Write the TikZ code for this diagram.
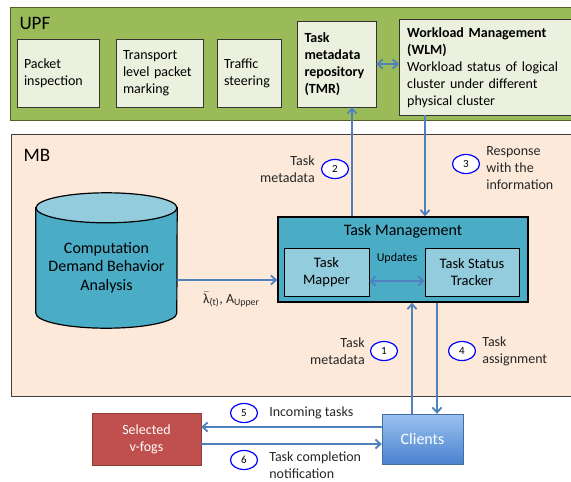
\documentclass[tikz,border=0pt]{standalone}
\usepackage{fontspec}
\setmainfont{Carlito}
\usepackage{tikz}
\usetikzlibrary{shapes, arrows.meta, positioning}

\definecolor{upfgreen}{HTML}{9BBB59}
\definecolor{upfline}{HTML}{4F6228}
\definecolor{boxfill}{HTML}{EBF1DE}
\definecolor{mbfill}{HTML}{FDE9D9}
\definecolor{aqua}{HTML}{4BACC6}
\definecolor{aqualight}{HTML}{93CDDD}
\definecolor{arrowblue}{HTML}{4F81BD}
\definecolor{fogred}{HTML}{C0504D}
\definecolor{clienttop}{HTML}{99C2F0}
\definecolor{clientbot}{HTML}{4A82CF}

\tikzstyle{region} = [draw=black!75, rectangle, anchor=north west, inner sep=0pt]
\tikzstyle{upfblock} = [draw=black!80, rectangle, fill=boxfill, minimum height=68pt, align=left, inner sep=7pt, font=\fontsize{14}{17}\selectfont]
\tikzstyle{tmblock} = [draw=black, rectangle, fill=aqualight, minimum height=48pt, align=center, font=\fontsize{14.5}{17}\selectfont]

\begin{document}
\begin{tikzpicture}[x=1pt, y=-1pt, >={Straight Barb[length=5pt,width=9pt]}]
    % styles
    \tikzstyle{badge} = [draw=blue, ellipse, line width=1.2pt, fill=white, minimum width=27pt, minimum height=19pt, inner sep=0pt, font=\fontsize{11}{12}\selectfont]
    \tikzstyle{lbl} = [font=\fontsize{14}{17}\selectfont, text=black!85, inner sep=0pt]
    \tikzstyle{flow} = [draw=arrowblue, line width=1.8pt]
    \tikzstyle{drum} = [draw=black, line width=1.2pt]

    \useasboundingbox (0,0) rectangle (571,482);

    % regions
    \node [region, fill=upfgreen, draw=upfline, minimum width=570pt, minimum height=113pt] (upf) at (10,7) {};
    \node [region, fill=mbfill, minimum width=570pt, minimum height=262pt] (mb) at (11,134) {};
    \node [anchor=west, font=\fontsize{19}{20}\selectfont] (upftitle) at (16,23) {UPF};
    \node [anchor=west, font=\fontsize{19}{20}\selectfont] (mbtitle) at (20,155) {MB};

    % UPF blocks
    \node [upfblock, text width=68pt] (pktinsp) at (58,73) {Packet\\inspection};
    \node [upfblock, text width=73pt] (marking) at (159.5,73) {Transport\\level packet\\marking};
    \node [upfblock, text width=50pt] (steering) at (249,73) {Traffic\\steering};
    \node [upfblock, text width=64pt, inner sep=7.5pt, minimum height=86pt, font=\fontsize{14}{17}\selectfont\bfseries] (tmr) at (336.5,64) {Task\\metadata\\repository\\(TMR)};
    \node [upfblock, anchor=north west, text width=165pt, inner sep=8pt, minimum height=89pt] (wlm) at (399,19)
        {\textbf{Workload Management}\\\textbf{(WLM)}\\Workload status of logical\\cluster under different\\physical cluster};

    % MB blocks
    \node [minimum width=141pt, minimum height=135pt, inner sep=0pt] (cdba) at (106.5,260.5) {};
    \draw [drum, fill=aqua] ([yshift=-15pt]cdba.north west) -- ([yshift=15pt]cdba.south west)
        arc [start angle=180, end angle=360, x radius=70.5pt, y radius=15pt] -- ([yshift=-15pt]cdba.north east) -- cycle;
    \draw [drum, fill=aqualight] ([yshift=-15pt]cdba.north) ellipse [x radius=70.5pt, y radius=15pt];
    \node [align=center, font=\fontsize{16}{18.5}\selectfont] (cdbatext) at ([yshift=-7pt]cdba.center) {Computation\\Demand Behavior\\Analysis};
    \node [draw=black, line width=1.5pt, fill=aqua, minimum width=250pt, minimum height=85pt] (tm) at (403,259.5) {};
    \node [font=\fontsize{16}{18}\selectfont] (tmtitle) at ([yshift=-15pt]tm.north) {Task Management};
    \node [tmblock, minimum width=85pt] (mapper) at (326.5,272) {Task\\Mapper};
    \node [tmblock, minimum width=94pt] (tracker) at (472,272) {Task Status\\Tracker};
    \node [font=\fontsize{12}{14}\selectfont] (updates) at (397,258) {Updates};

    % outside
    \node [draw=arrowblue!85!black, top color=clienttop, bottom color=clientbot, minimum width=81pt, minimum height=50pt,
           text=white, font=\fontsize{16}{19}\selectfont] (clients) at (422.5,439) {Clients};
    \node [draw=fogred!75!black, fill=fogred, minimum width=109pt, minimum height=52pt, align=center,
           text=white, font=\fontsize{14}{17}\selectfont] (vfogs) at (146.5,439) {Selected\\v-fogs};

    % arrows
    \coordinate (xa) at (352,0);
    \coordinate (xb) at (425,0);
    \coordinate (xc) at (412,0);
    \coordinate (xd) at (437,0);
    \draw [flow, ->] (tm.north -| xa) -- (tmr.south -| xa);
    \draw [flow, ->] (wlm.south -| xb) -- (tm.north -| xb);
    \draw [flow, ->] (clients.north -| xc) -- (tm.south -| xc);
    \draw [flow, ->] (tm.south -| xd) -- (clients.north -| xd);
    \draw [flow, <->] (tmr.east) -- (tmr.east -| wlm.west);
    \draw [flow, <->] ([yshift=-9pt]mapper.east) coordinate (upd) -- (upd -| tracker.west);
    \draw [flow, ->] ([yshift=-19.5pt]cdba.east) coordinate (lam) -- (lam -| tm.west);
    \draw [flow, ->] ([yshift=12pt]clients.west) coordinate (inc) -- (inc -| vfogs.east);
    \draw [flow, ->] ([yshift=-5pt]vfogs.east) coordinate (done) -- (done -| clients.west);

    % labels
    \node [lbl, anchor=north west] (lamlabel) at (203,292) {$\bar{\hbox{λ}}$\textsubscript{(t)}, A\textsubscript{Upper}};
    \node [badge] (n1) at (384,351) {1};
    \node [badge] (n2) at (335,169) {2};
    \node [badge] (n3) at (466,164) {3};
    \node [badge] (n4) at (462,351) {4};
    \node [badge] (n5) at (244,413) {5};
    \node [badge] (n6) at (244,460) {6};
    \node [lbl, align=right, left=5pt of n1] (t1) {Task\\metadata};
    \node [lbl, align=right, left=6pt of n2] (t2) {Task\\metadata};
    \node [lbl, align=left, right=6pt of n3, yshift=-4pt] (t3) {Response\\with the\\information};
    \node [lbl, align=left, right=6pt of n4] (t4) {Task\\assignment};
    \node [lbl, align=left, right=11pt of n5] (t5) {Incoming tasks};
    \node [lbl, align=left, right=11pt of n6, yshift=-5pt] (t6) {Task completion\\notification};
\end{tikzpicture}
\end{document}
